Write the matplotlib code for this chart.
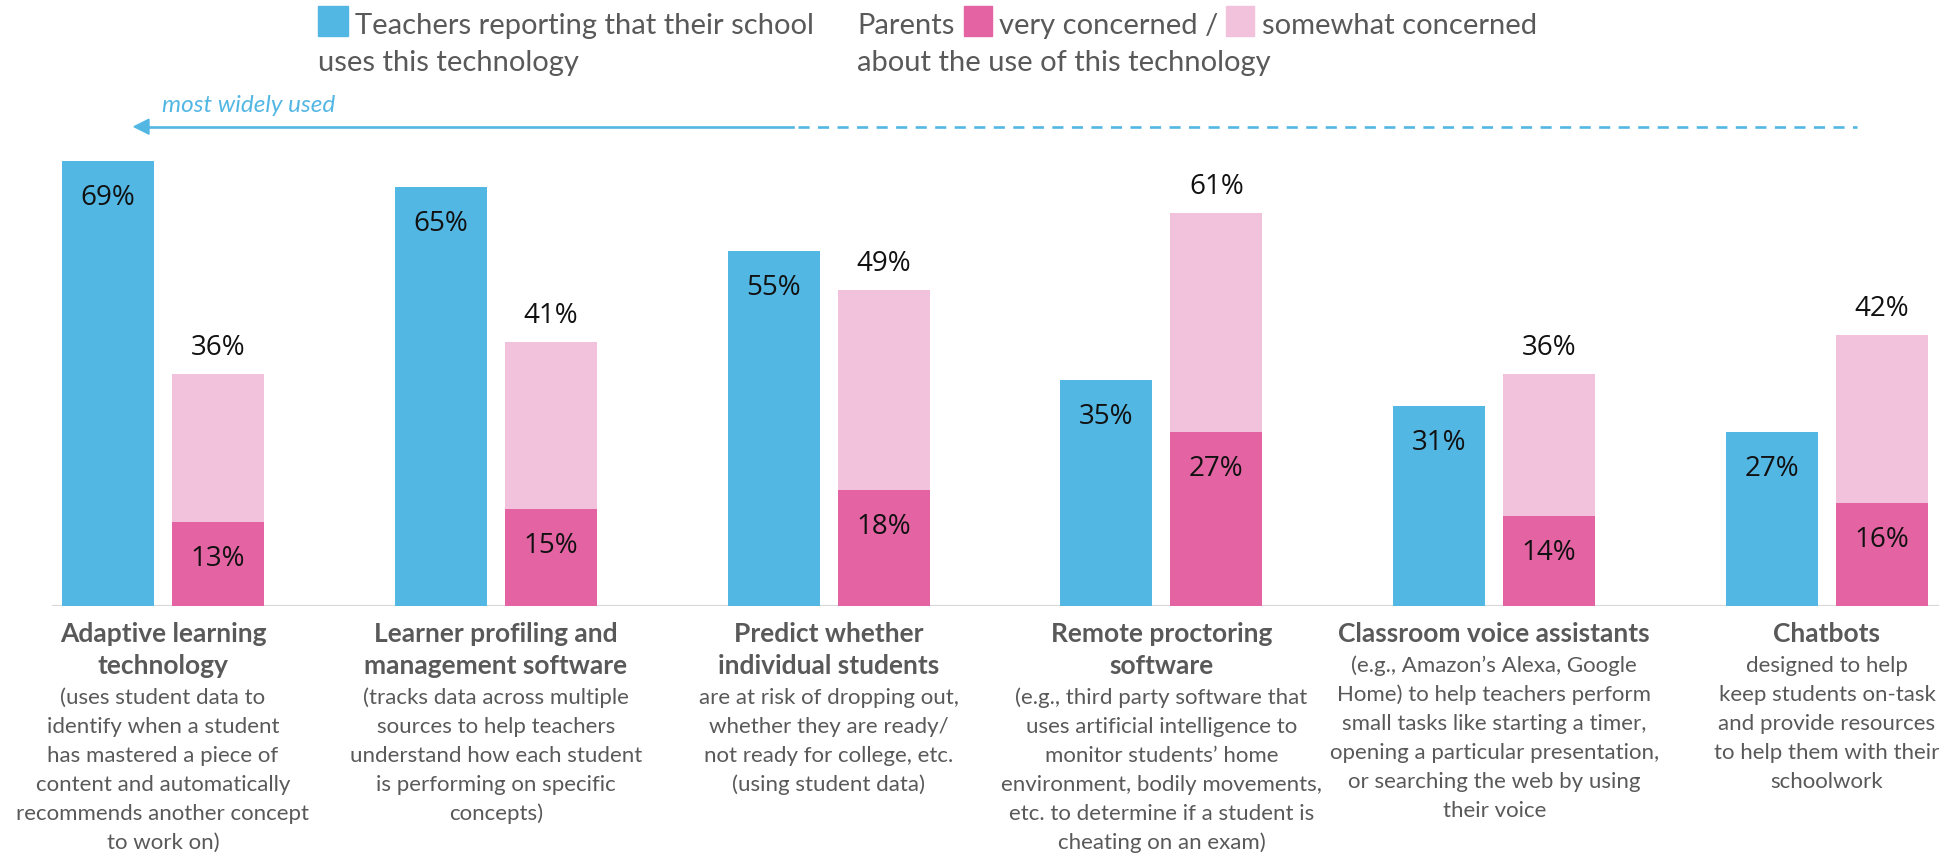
import numpy as np
import matplotlib.pyplot as plt
from matplotlib.transforms import Affine2D
from matplotlib.patches import Rectangle, Polygon
from matplotlib.lines import Line2D

plt.rcParams['font.family'] = ['Lato', 'DejaVu Sans']

# survey results, in percent
titles = [
    ["Adaptive learning", "technology"],
    ["Learner profiling and", "management software"],
    ["Predict whether", "individual students"],
    ["Remote proctoring", "software"],
    ["Classroom voice assistants"],
    ["Chatbots"],
]
details = [
    ["(uses student data to", "identify when a student", "has mastered a piece of",
     "content and automatically", "recommends another concept", "to work on)"],
    ["(tracks data across multiple", "sources to help teachers",
     "understand how each student", "is performing on specific", "concepts)"],
    ["are at risk of dropping out,", "whether they are ready/",
     "not ready for college, etc.", "(using student data)"],
    ["(e.g., third party software that", "uses artificial intelligence to",
     "monitor students\u2019 home", "environment, bodily movements,",
     "etc. to determine if a student is", "cheating on an exam)"],
    ["(e.g., Amazon\u2019s Alexa, Google", "Home) to help teachers perform",
     "small tasks like starting a timer,", "opening a particular presentation,",
     "or searching the web by using", "their voice"],
    ["designed to help", "keep students on-task", "and provide resources",
     "to help them with their", "schoolwork"],
]
teachers_use = [69, 65, 55, 35, 31, 27]
parents_very = [13, 15, 18, 27, 14, 16]
parents_total = [36, 41, 49, 61, 36, 42]

BLUE = '#53B7E4'
PINK = '#E463A2'
LIGHT = '#F2C1DC'
GREY = '#595959'

W, H = 1954, 856
fig = plt.figure(figsize=(W / 100, H / 100), dpi=100)
# pixel coordinates measured from the top-left corner
px = Affine2D().scale(1 / W, -1 / H).translate(0, 1) + fig.transFigure

base_y = 606
step = 332.8
first = 163
ax = fig.add_axes([0, (H - base_y) / H, 1, 516 / H])
ax.patch.set_alpha(0)
ax.set_xlim(-first / step, (W - first) / step)
ax.set_ylim(0, 80)
ax.axis('off')

x = np.arange(len(teachers_use))
off, width = 0.165, 0.2765
very = np.array(parents_very)
somewhat = np.array(parents_total) - very

ax.axhline(0, xmin=53 / W, xmax=1938 / W, color='#D9D9D9', lw=1.6, zorder=0)
ax.bar(x - off, teachers_use, width, color=BLUE, zorder=2)
ax.bar(x + off, very, width, color=PINK, zorder=2)
ax.bar(x + off, somewhat, width, bottom=very, color=LIGHT, zorder=2)

lab = dict(ha='center', va='baseline', textcoords='offset pixels',
           fontsize=20, family=['Open Sans', 'DejaVu Sans'], color='#111111')
for i in range(len(x)):
    ax.annotate(f"{teachers_use[i]}%", (x[i] - off, teachers_use[i]), xytext=(0, -44), **lab)
    ax.annotate(f"{parents_very[i]}%", (x[i] + off, parents_very[i]), xytext=(0, -44), **lab)
    ax.annotate(f"{parents_total[i]}%", (x[i] + off, parents_total[i]), xytext=(0, 19), **lab)

# category descriptions under the axis
for i in range(len(x)):
    cx = first + step * i
    y = 642
    for line in titles[i]:
        fig.text(cx, y, line, transform=px, ha='center', va='baseline',
                 fontsize=19, fontweight='bold', color=GREY)
        y += 32
    y -= 2
    for line in details[i]:
        fig.text(cx, y, line, transform=px, ha='center', va='baseline',
                 fontsize=16, color=GREY)
        y += 29

# legend
leg = dict(transform=px, va='baseline', fontsize=21, color=GREY)
fig.patches.append(Rectangle((318, 6), 30, 30, transform=px, color=BLUE))
fig.text(355, 34, "Teachers reporting that their school", **leg)
fig.text(318, 71, "uses this technology", **leg)
fig.text(857, 34, "Parents", **leg)
fig.patches.append(Rectangle((964, 6), 28, 30, transform=px, color=PINK))
fig.text(999, 34, "very concerned /", **leg)
fig.patches.append(Rectangle((1226, 6), 28, 30, transform=px, color=LIGHT))
fig.text(1262, 34, "somewhat concerned", **leg)
fig.text(857, 71, "about the use of this technology", **leg)

# "most widely used" arrow
ay = 126.7
fig.text(162, 112, "most widely used", transform=px, va='baseline',
         fontsize=17.5, style='italic', color=BLUE)
fig.lines.append(Line2D([146, 793], [ay, ay], transform=px, color=BLUE, lw=1.9))
fig.lines.append(Line2D([798, 1857], [ay, ay], transform=px, color=BLUE, lw=1.9,
                        dashes=(4.2, 3.2)))
fig.patches.append(Polygon([(134, ay), (149, ay - 7.5), (149, ay + 7.5)],
                           closed=True, transform=px, color=BLUE))

fig.savefig('out.png', dpi=100, facecolor='white')
